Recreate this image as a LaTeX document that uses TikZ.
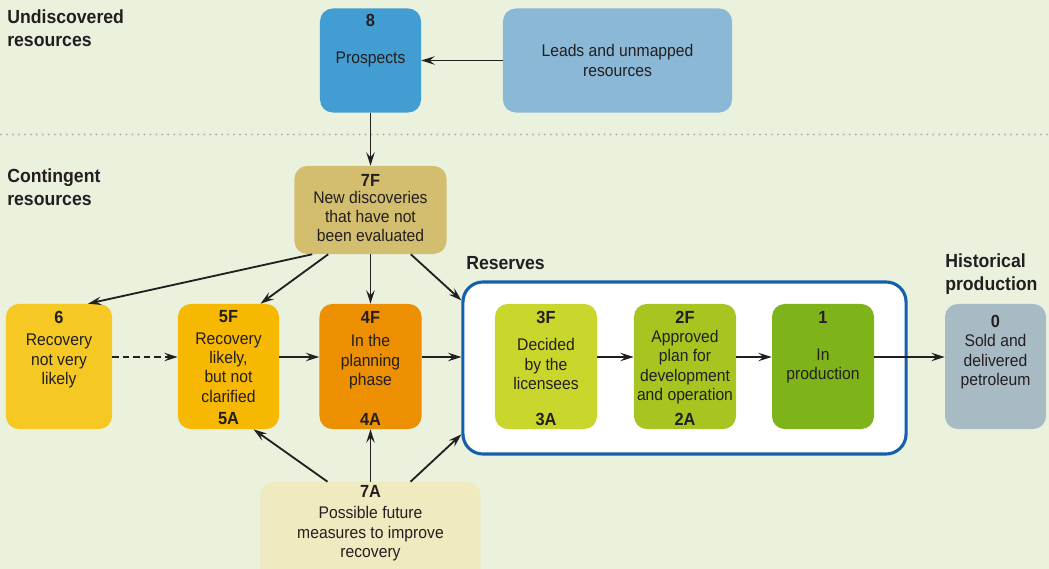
\documentclass[tikz,border=0pt]{standalone}
\usepackage{fontspec}
\setmainfont{Liberation Sans}[FakeStretch=0.93]
\usetikzlibrary{arrows.meta}

\definecolor{bgc}{RGB}{234,242,222}
\definecolor{ink}{RGB}{35,31,32}
\definecolor{c8}{RGB}{66,157,210}
\definecolor{cleads}{RGB}{139,184,214}
\definecolor{c7f}{RGB}{211,189,110}
\definecolor{c7a}{RGB}{240,234,192}
\definecolor{c6}{RGB}{245,200,35}
\definecolor{c5}{RGB}{246,184,0}
\definecolor{c4}{RGB}{236,143,0}
\definecolor{c3}{RGB}{201,214,43}
\definecolor{c2}{RGB}{166,197,32}
\definecolor{c1}{RGB}{127,179,26}
\definecolor{c0}{RGB}{168,187,197}
\definecolor{resblue}{RGB}{21,96,172}
\definecolor{dotgray}{RGB}{178,184,172}

\tikzset{
  box/.style={rectangle, rounded corners=0.32cm, minimum width=2.55cm, minimum height=3.125cm, inner sep=0pt},
  num/.style={font=\fontsize{12.5}{14}\selectfont\bfseries, inner sep=0pt, text=ink},
  body/.style={font=\fontsize{12}{13.8}\selectfont, align=center, inner sep=0pt, text=ink},
  head/.style={font=\fontsize{13.5}{16.3}\selectfont\bfseries, align=left, inner sep=0pt, anchor=west, text=ink},
  arr/.style={-{Stealth[length=9.5pt,width=6pt,inset=3.5pt]}, line width=1.3pt, draw=ink},
}

\begin{document}
\begin{tikzpicture}[x=0.025cm, y=-0.025cm]
  \path[use as bounding box, clip] (0,0) rectangle (1049,569);
  \fill[bgc] (0,0) rectangle (1049,569);
  \draw[dotgray, line width=1.6pt, line cap=round, dash pattern=on 0pt off 4.25pt] (1,134.5) -- (1049,134.5);

  % section headings
  \node[head] (hund) at (7,28.5) {Undiscovered\\resources};
  \node[head] (hcon) at (7,187.5) {Contingent\\resources};
  \node[head] (hres) at (466,263) {Reserves};
  \node[head] (hhis) at (945,274) {Historical\\production};

  % undiscovered
  \node[box, fill=c8, minimum width=2.525cm, minimum height=2.6cm] (n8) at (370.5,60.5) {};
  \node[num] (t8) at (370.5,20) {8};
  \node[body] (b8) at (370.5,59) {Prospects};
  \node[box, fill=cleads, minimum width=5.725cm, minimum height=2.6cm] (nleads) at (617.5,60.5) {};
  \node[body] (bleads) at (617.5,60.5) {Leads and unmapped\\resources};

  % contingent
  \node[box, fill=c7f, minimum width=3.8cm, minimum height=2.2cm] (n7f) at (370.5,210) {};
  \node[num] (t7f) at (370.5,180) {7F};
  \node[body] (b7f) at (370.5,216.5) {New discoveries\\that have not\\been evaluated};

  \node[box, fill=c6, minimum width=2.65cm] (n6) at (59,366.5) {};
  \node[num] (t6) at (59,317) {6};
  \node[body] (b6) at (59,361) {Recovery\\not very\\likely};

  \node[box, fill=c5, minimum width=2.525cm] (n5f) at (228.5,366.5) {};
  \node[num] (t5f) at (228.5,317) {5F};
  \node[body] (b5f) at (228.5,367.5) {Recovery\\likely,\\but not\\clarified};
  \node[num] (t5a) at (228.5,419) {5A};

  \node[box, fill=c4] (n4f) at (370.5,366.5) {};
  \node[num] (t4f) at (370.5,317) {4F};
  \node[body] (b4f) at (370.5,362) {In the\\planning\\phase};
  \node[num] (t4a) at (370.5,419) {4A};

  \node[box, fill=c7a, minimum width=5.5cm, minimum height=2.95cm] (n7a) at (370.5,541) {};
  \node[num] (t7a) at (370.5,491) {7A};
  \node[body] (b7a) at (370.5,534) {Possible future\\measures to improve\\recovery};

  % reserves
  \node[rectangle, rounded corners=0.5cm, draw=resblue, line width=2.2pt, fill=white,
        minimum width=11.075cm, minimum height=4.3cm] (nres) at (684.5,368) {};

  \node[box, fill=c3] (n3f) at (546,366.5) {};
  \node[num] (t3f) at (546,317) {3F};
  \node[body] (b3f) at (546,364) {Decided\\by the\\licensees};
  \node[num] (t3a) at (546,419) {3A};

  \node[box, fill=c2] (n2f) at (685,366.5) {};
  \node[num] (t2f) at (685,317) {2F};
  \node[body] (b2f) at (685,367) {Approved\\plan for\\development\\and operation};
  \node[num] (t2a) at (685,419) {2A};

  \node[box, fill=c1] (n1) at (823,366.5) {};
  \node[num] (t1) at (823,317) {1};
  \node[body] (b1) at (823,366) {In\\production};

  % historical
  \node[box, fill=c0, minimum width=2.525cm] (n0) at (995.5,366.5) {};
  \node[num] (t0) at (995.5,321) {0};
  \node[body] (b0) at (995.5,362) {Sold and\\delivered\\petroleum};

  \coordinate (rowline) at (0,357);

  % connectors
  \draw[arr] (nleads.west) -- (n8.east);
  \draw[arr] (n8.south) -- (n7f.north);
  \draw[arr] ([xshift=0.45cm]n7f.south west) -- ([xshift=0.725cm]n6.north);
  \draw[arr] ([xshift=0.85cm]n7f.south west) -- ([xshift=0.8cm]n5f.north);
  \draw[arr] (n7f.south) -- (n4f.north);
  \draw[arr] ([xshift=-0.9cm]n7f.south east) -- ([yshift=-0.5cm]nres.north west);
  \draw[arr, dash pattern=on 4.5pt off 3pt] (n6.east |- rowline) -- (n5f.west |- rowline);
  \draw[arr] (n5f.east |- rowline) -- (n4f.west |- rowline);
  \draw[arr] (n4f.east |- rowline) -- (nres.west |- rowline);
  \draw[arr] (n3f.east |- rowline) -- (n2f.west |- rowline);
  \draw[arr] (n2f.east |- rowline) -- (n1.west |- rowline);
  \draw[arr] (n1.east |- rowline) -- (n0.west |- rowline);
  \draw[arr] ([xshift=-1.075cm]n7a.north) -- ([xshift=0.625cm]n5f.south);
  \draw[arr] (n7a.north) -- (n4f.south);
  \draw[arr] ([xshift=1cm]n7a.north) -- ([yshift=0.53cm]nres.south west);
\end{tikzpicture}
\end{document}
